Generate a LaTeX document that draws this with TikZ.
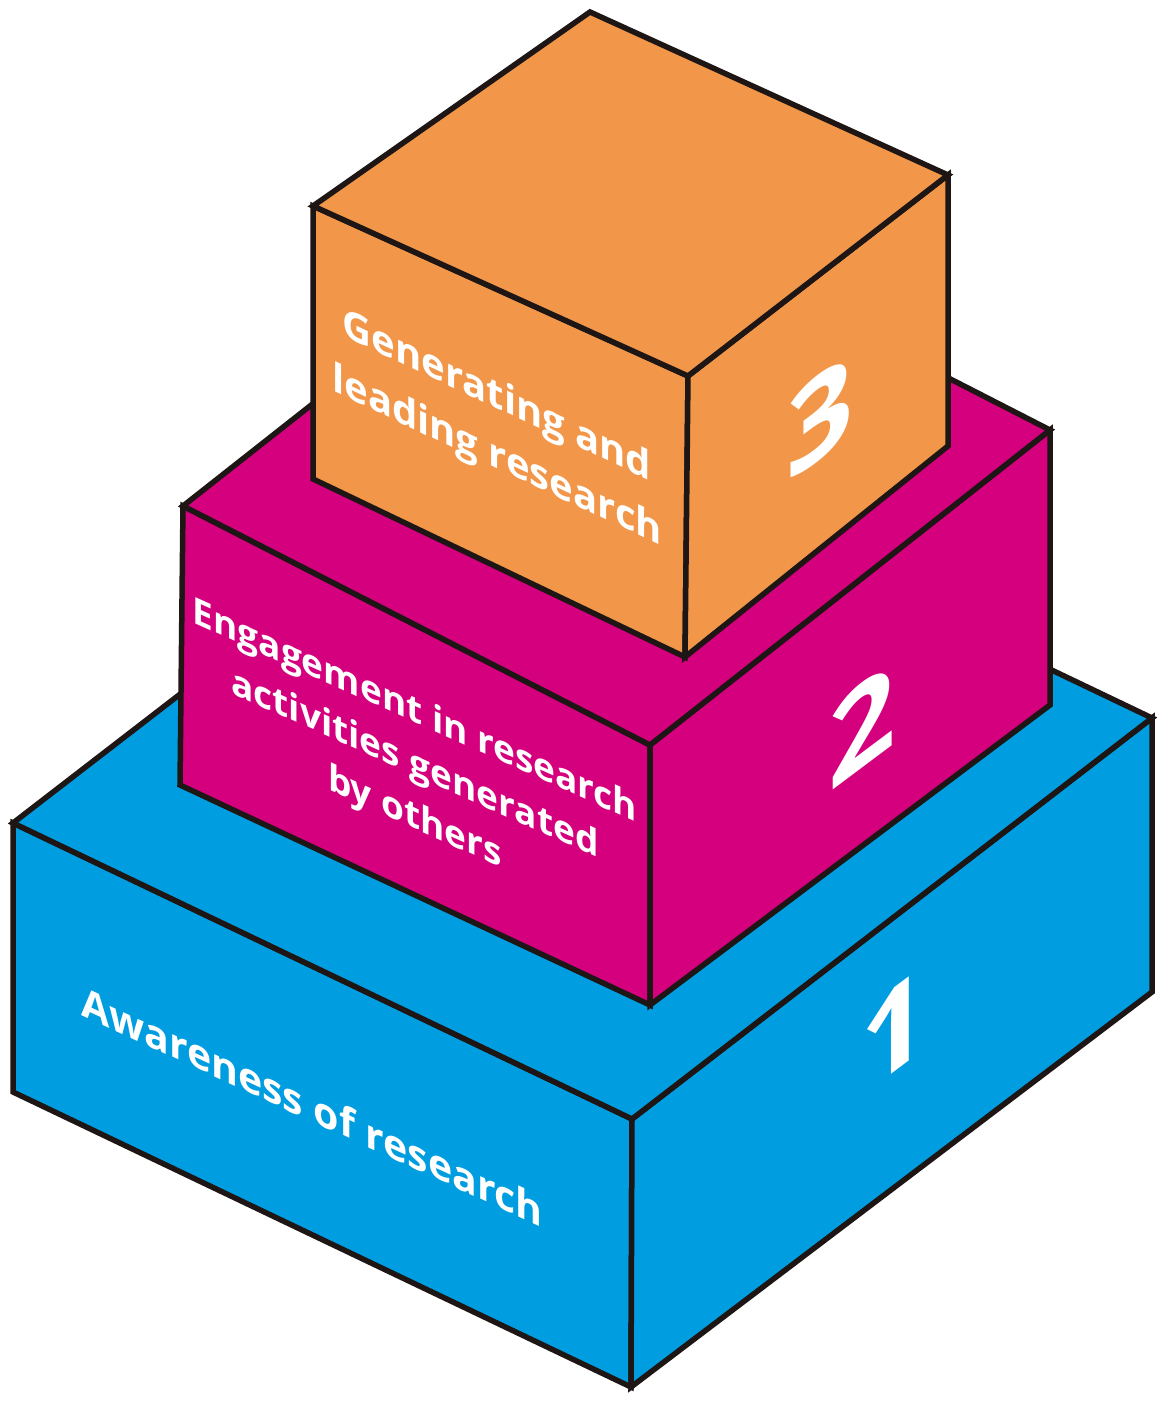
\documentclass[tikz,border=0pt]{standalone}
\usepackage{fontspec}
\setmainfont{Open Sans}
\usepackage{tikz}
\usepackage{xcolor}
\usetikzlibrary{calc}
\definecolor{boxblue}{RGB}{0,158,224}
\definecolor{boxmagenta}{RGB}{212,0,126}
\definecolor{boxorange}{RGB}{242,151,74}
\definecolor{edgeblack}{RGB}{30,22,20}
\tikzset{
    face/.style={draw=edgeblack, line width=5.5pt},
    bluebox/.style={face, fill=boxblue},
    magentabox/.style={face, fill=boxmagenta},
    orangebox/.style={face, fill=boxorange},
    facetext/.style={text=white, font=\fontsize{40}{58}\selectfont\bfseries, align=center, inner sep=0pt, transform shape},
    facenum/.style={text=white, font=\fontsize{118}{118}\selectfont\bfseries, inner sep=0pt, transform shape},
    every picture/.style={x=1pt, y=-1pt}
}
\begin{document}
\begin{tikzpicture}
\useasboundingbox (0,0) rectangle (1166,1402);

% Level 1: bottom box
\coordinate (b1) at (13,823);
\coordinate (b2) at (632,1119);
\coordinate (b3) at (1152,718);
\coordinate (b4) at (533,422);
\coordinate (b5) at (13,1092);
\coordinate (b6) at (631,1387);
\coordinate (b7) at (1152,992);
\draw[bluebox] (b1) -- (b2) -- (b6) -- (b5) -- cycle;
\draw[bluebox] (b2) -- (b3) -- (b7) -- (b6) -- cycle;
\draw[bluebox] (b1) -- (b4) -- (b3) -- (b2) -- cycle;

% Level 2: middle box
\coordinate (m1) at (183,506);
\coordinate (m2) at (650,745);
\coordinate (m3) at (1050,430);
\coordinate (m4) at (583,191);
\coordinate (m5) at (180,785);
\coordinate (m6) at (650,1005);
\coordinate (m7) at (1050,705);
\draw[magentabox] (m1) -- (m2) -- (m6) -- (m5) -- cycle;
\draw[magentabox] (m2) -- (m3) -- (m7) -- (m6) -- cycle;
\draw[magentabox] (m1) -- (m4) -- (m3) -- (m2) -- cycle;

% Level 3: top box
\coordinate (o1) at (313,206);
\coordinate (o2) at (688,376);
\coordinate (o3) at (948,175);
\coordinate (o4) at (590,12);
\coordinate (o5) at (313,479);
\coordinate (o6) at (685,657);
\coordinate (o7) at (948,446);
\draw[orangebox] (o1) -- (o2) -- (o6) -- (o5) -- cycle;
\draw[orangebox] (o2) -- (o3) -- (o7) -- (o6) -- cycle;
\draw[orangebox] (o1) -- (o4) -- (o3) -- (o2) -- cycle;

% Labels on the front faces
\begin{scope}[shift={(312,1106)}, yslant=-0.46]
    \node[facetext, font=\fontsize{41}{58}\selectfont\bfseries] (aware) {Awareness of research};
\end{scope}
\begin{scope}[shift={(415,766)}, yslant=-0.45]
    \node[facetext, font=\fontsize{37}{53}\selectfont\bfseries] (engage) {Engagement in research\\activities generated\\by others};
\end{scope}
\begin{scope}[shift={(497,428)}, yslant=-0.47]
    \node[facetext, font=\fontsize{40}{60}\selectfont\bfseries] (lead) {Generating and\\leading research};
\end{scope}

% Level numbers on the side faces
\begin{scope}[shift={(894,1030)}, yslant=0.75]
    \node[facenum] (n1) {1};
\end{scope}
\begin{scope}[shift={(862,726)}, yslant=0.75]
    \node[facenum] (n2) {2};
\end{scope}
\begin{scope}[shift={(820,417)}, yslant=0.75]
    \node[facenum] (n3) {3};
\end{scope}
\end{tikzpicture}
\end{document}
